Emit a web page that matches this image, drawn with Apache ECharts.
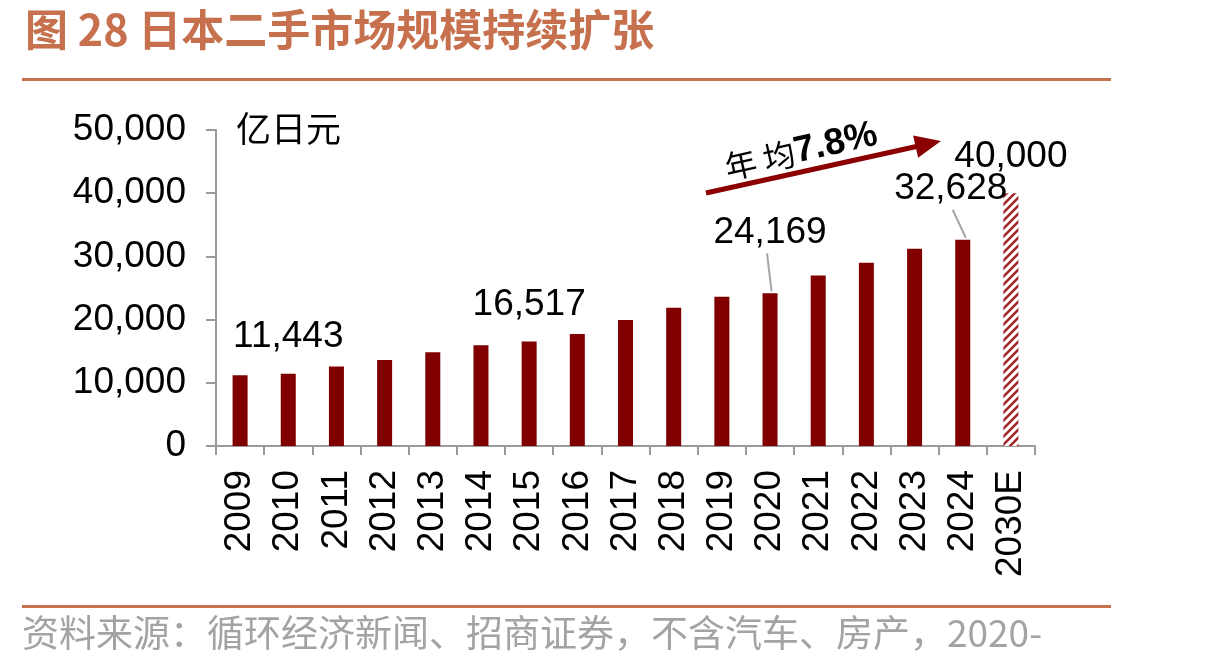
<!DOCTYPE html>
<html>
<head>
<meta charset="utf-8">
<script src="https://cdn.jsdelivr.net/npm/echarts@6.0.0/dist/echarts.min.js"></script>
<style>
html,body{margin:0;padding:0;background:#fff;}
#chart{width:1216px;height:669px;}
</style>
</head>
<body>
<div id="chart"></div>
<script>
var categories = ['2009','2010','2011','2012','2013','2014','2015','2016','2017','2018','2019','2020','2021','2022','2023','2024','2030E'];
var values = [11200, 11443, 12560, 13620, 14840, 15950, 16517, 17740, 19950, 21880, 23600, 24169, 26990, 28980, 31230, 32628, 40000];
var labelledYears = ['2010','2015','2020','2024','2030E'];
var yTicks = [0, 10000, 20000, 30000, 40000, 50000];
var titleText = '图 28 日本二手市场规模持续扩张';
var unitText = '亿日元';
var cagrPrefix = '年 均';
var cagrValue = '7.8%';
var sourceText = '资料来源：循环经济新闻、招商证券，不含汽车、房产，2020-';

var NUM_FONT = 'Arial, "Liberation Sans", sans-serif';
var CJK_FONT = '"Noto Sans CJK SC", sans-serif';
var BAR = '#800000';

// hatch pattern for the forecast bar
var pat = document.createElement('canvas');
pat.width = 8; pat.height = 8;
var pc = pat.getContext('2d');
pc.fillStyle = '#ffffff'; pc.fillRect(0,0,8,8);
pc.strokeStyle = '#a3262b'; pc.lineWidth = 2.6;
pc.beginPath();
pc.moveTo(-2, 10); pc.lineTo(10, -2);
pc.moveTo(-2, 2); pc.lineTo(2, -2);
pc.moveTo(6, 10); pc.lineTo(10, 6);
pc.stroke();

var seriesData = categories.map(function(c, i){
  var item = { value: values[i] };
  var show = labelledYears.indexOf(c) >= 0;
  item.label = { show: show };
  if (c === '2020') item.label.offset = [0, -24];
  if (c === '2024') item.label.offset = [-12, -14];
  if (c === '2030E') item.itemStyle = { color: { image: pat, repeat: 'repeat' } };
  return item;
});

var chart = echarts.init(document.getElementById('chart'), null, {renderer: 'canvas'});
chart.setOption({
  animation: false,
  backgroundColor: '#ffffff',
  title: {
    text: titleText,
    left: 20, top: 3,
    textStyle: { fontSize: 43, fontWeight: 'bold', color: '#C6704E', fontFamily: CJK_FONT }
  },
  grid: { left: 216, right: 181, top: 130, bottom: 223, containLabel: false },
  xAxis: {
    type: 'category',
    data: categories,
    axisLine: { lineStyle: { color: '#9a9a9a', width: 2 } },
    axisTick: { show: true, length: 9, lineStyle: { color: '#9a9a9a', width: 2 } },
    axisLabel: { rotate: 90, fontSize: 37, margin: 24, color: '#000', fontFamily: NUM_FONT }
  },
  yAxis: {
    type: 'value',
    min: yTicks[0], max: yTicks[yTicks.length-1], interval: 10000,
    axisLine: { show: true, lineStyle: { color: '#9a9a9a', width: 2 } },
    axisTick: { show: true, length: 10, lineStyle: { color: '#9a9a9a', width: 2 } },
    splitLine: { show: false },
    axisLabel: {
      fontSize: 37, margin: 30, color: '#000', fontFamily: NUM_FONT,
      formatter: function(v){ return v.toLocaleString('en-US'); }
    }
  },
  series: [{
    type: 'bar',
    data: seriesData,
    barWidth: 15,
    itemStyle: { color: BAR },
    label: {
      position: 'top', distance: 18, fontSize: 37, color: '#000', fontFamily: NUM_FONT,
      formatter: function(p){ return p.value.toLocaleString('en-US'); }
    }
  }]
});

function px(cat, val){ return chart.convertToPixel({seriesIndex: 0}, [cat, val]); }
var p2020 = px('2020', values[categories.indexOf('2020')]);
var p2024 = px('2024', values[categories.indexOf('2024')]);

// arrow geometry
var tail = [706, 193], tip = [941, 141];
var dx = tip[0]-tail[0], dy = tip[1]-tail[1], L = Math.sqrt(dx*dx+dy*dy);
var ux = dx/L, uy = dy/L, nx = -uy, ny = ux;
var headLen = 26, headHalf = 11.5;
var bx = tip[0]-ux*headLen, by = tip[1]-uy*headLen;

chart.setOption({
  graphic: [
    { type: 'rect', shape: { x: 22, y: 78, width: 1089, height: 3 }, style: { fill: '#C8714F' } },
    { type: 'rect', shape: { x: 22, y: 605, width: 1089, height: 3 }, style: { fill: '#C8714F' } },
    { type: 'text', x: 22, y: 614, style: { text: sourceText, font: '37px ' + CJK_FONT, fill: '#A3A3A3' } },
    { type: 'text', x: 236, y: 111, style: { text: unitText, font: '35px ' + CJK_FONT, fill: '#000' } },
    { type: 'line', shape: { x1: p2020[0]-3, y1: p2020[1]-40, x2: p2020[0]+1.5, y2: p2020[1]-2 }, style: { stroke: '#a6a6a6', lineWidth: 2 } },
    { type: 'line', shape: { x1: p2024[0]-10, y1: p2024[1]-30, x2: p2024[0]+3, y2: p2024[1]-2 }, style: { stroke: '#a6a6a6', lineWidth: 2 } },
    { type: 'line', shape: { x1: tail[0], y1: tail[1], x2: bx+ux*2, y2: by+uy*2 }, style: { stroke: '#8B0000', lineWidth: 5 } },
    { type: 'polygon', shape: { points: [[tip[0], tip[1]], [bx+nx*headHalf, by+ny*headHalf], [bx-nx*headHalf, by-ny*headHalf]] }, style: { fill: '#8B0000' } },
    {
      type: 'text', x: 801, y: 151, rotation: Math.atan2(-dy, dx),
      style: {
        text: '{a|' + cagrPrefix + '}{b|' + cagrValue + '}',
        align: 'center', verticalAlign: 'middle',
        rich: {
          a: { font: '32px ' + CJK_FONT, fill: '#000' },
          b: { font: 'bold 37px ' + NUM_FONT, fill: '#000' }
        }
      }
    }
  ]
});
</script>
</body>
</html>
